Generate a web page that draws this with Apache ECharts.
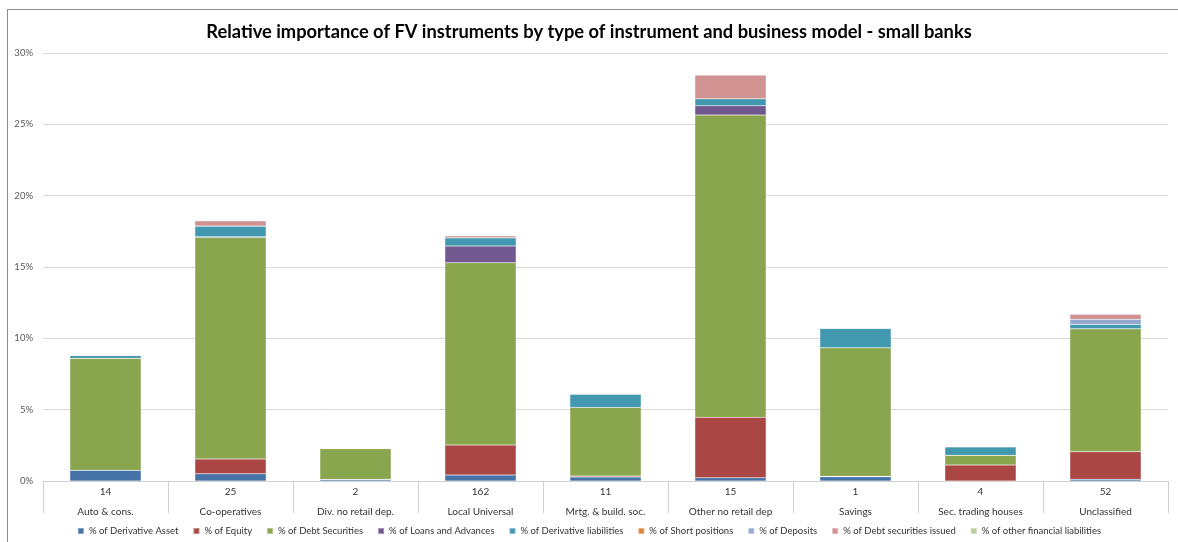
<!DOCTYPE html>
<html>
<head>
<meta charset="utf-8">
<script src="https://cdn.jsdelivr.net/npm/echarts@6/dist/echarts.min.js"></script>
<style>
  html, body { margin: 0; padding: 0; background: #fff; }
  #frame { position: absolute; left: 7px; top: 9px; width: 1175px; height: 540px; border: 1px solid #8c8c8c; box-sizing: border-box; }
  #chart { position: absolute; left: 0; top: 0; width: 1178px; height: 542px; }
</style>
</head>
<body>
<div id="frame"></div>
<div id="chart"></div>
<script>
// Business models and number of banks in each group
const categories = ['Auto & cons.', 'Co-operatives', 'Div. no retail dep.', 'Local Universal', 'Mrtg. & build. soc.', 'Other no retail dep', 'Savings', 'Sec. trading houses', 'Unclassified'];
const bankCounts = ['14', '25', '2', '162', '11', '15', '1', '4', '52'];

// Share of each fair-value instrument type (% of total assets)
const derivativeAsset      = [0.75, 0.50, 0.10, 0.42, 0.28, 0.23, 0.30, 0.00, 0.12];
const equity               = [0.00, 1.04, 0.02, 2.10, 0.07, 4.23, 0.03, 1.12, 1.93];
const debtSecurities       = [7.85, 15.53, 2.15, 12.78, 4.81, 21.19, 9.01, 0.68, 8.62];
const loansAdvances        = [0.00, 0.05, 0.03, 1.17, 0.00, 0.65, 0.00, 0.00, 0.00];
const derivativeLiab       = [0.20, 0.75, 0.00, 0.58, 0.94, 0.50, 1.36, 0.60, 0.31];
const shortPositions       = [0.00, 0.00, 0.00, 0.00, 0.00, 0.00, 0.00, 0.00, 0.00];
const deposits             = [0.00, 0.00, 0.00, 0.00, 0.00, 0.00, 0.00, 0.00, 0.35];
const debtSecIssued        = [0.00, 0.37, 0.00, 0.14, 0.00, 1.65, 0.00, 0.00, 0.35];
const otherFinLiab         = [0.00, 0.00, 0.00, 0.00, 0.00, 0.00, 0.00, 0.00, 0.00];

const seriesDefs = [
  ['% of Derivative Asset', derivativeAsset, '#4572A7'],
  ['% of Equity', equity, '#AA4643'],
  ['% of Debt Securities', debtSecurities, '#89A54E'],
  ['% of Loans and Advances', loansAdvances, '#71588F'],
  ['% of Derivative liabilities', derivativeLiab, '#4198AF'],
  ['% of Short positions', shortPositions, '#DB843D'],
  ['% of Deposits', deposits, '#93A9CF'],
  ['% of Debt securities issued', debtSecIssued, '#D19392'],
  ['% of other financial liabilities', otherFinLiab, '#B9CD96']
];

const FONT = 'Lato, "Open Sans", sans-serif';
const chart = echarts.init(document.getElementById('chart'), null, { renderer: 'canvas' });

chart.setOption({
  animation: false,
  backgroundColor: 'transparent',
  title: {
    text: 'Relative importance of FV instruments by type of instrument and business model - small banks',
    left: 'center',
    top: 18,
    textStyle: { fontFamily: FONT, fontSize: 18.3, fontWeight: 'bold', color: '#000' }
  },
  legend: {
    bottom: 1,
    left: 'center',
    itemWidth: 6,
    itemHeight: 6,
    itemGap: 14,
    icon: 'rect',
    textStyle: { fontFamily: FONT, fontSize: 9.5, color: '#333' },
    data: seriesDefs.map(d => d[0])
  },
  grid: { left: 43, right: 10, top: 53, bottom: 61, containLabel: false },
  xAxis: {
    type: 'category',
    data: categories,
    axisLine: { lineStyle: { color: '#d0d0d0' } },
    axisTick: { show: true, length: 32, lineStyle: { color: '#d0d0d0' } },
    axisLabel: {
      interval: 0,
      margin: 1,
      fontFamily: FONT,
      formatter: (v, i) => '{n|' + bankCounts[i] + '}\n{c|' + v + '}',
      rich: {
        n: { fontFamily: FONT, fontSize: 10, color: '#333', lineHeight: 20 },
        c: { fontFamily: FONT, fontSize: 10, color: '#333', lineHeight: 20 }
      }
    }
  },
  yAxis: {
    type: 'value',
    min: 0,
    max: 30,
    interval: 5,
    axisLine: { show: false },
    axisTick: { show: false },
    splitLine: { lineStyle: { color: '#d9d9d9' } },
    axisLabel: { formatter: '{value}%', fontFamily: FONT, fontSize: 9.5, color: '#595959', margin: 10 }
  },
  series: seriesDefs.map(([name, data, color]) => ({
    name,
    type: 'bar',
    stack: 'total',
    barWidth: '57%',
    data,
    itemStyle: { color, borderColor: 'rgba(255,255,255,0.35)', borderWidth: 0.5 }
  }))
});
</script>
</body>
</html>
